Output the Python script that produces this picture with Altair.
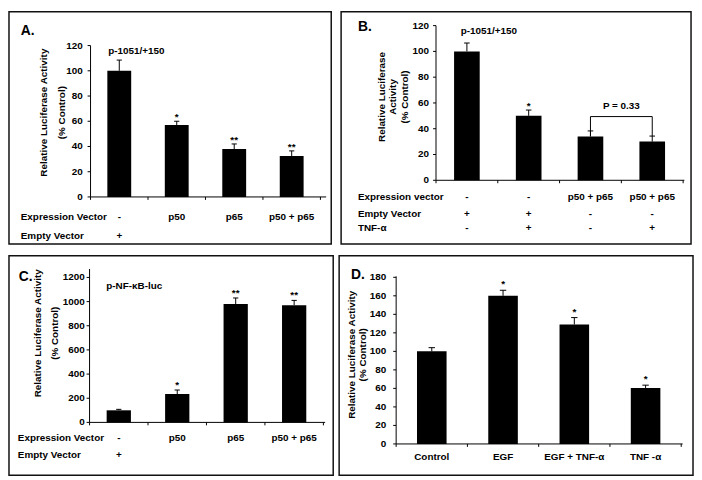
import altair as alt
import pandas as pd

FONT = "Liberation Sans"

# ---------------- data ----------------
A_VALUES = [100, 57, 38, 32.5]
A_ERRORS = [8.5, 3, 4, 4]
A_STARS = ["", "*", "**", "**"]
A_ROW_NAMES = ["Expression Vector", "Empty Vector"]
A_ROW_CELLS = [["-", "p50", "p65", "p50 + p65"], ["+", "", "", ""]]
A_TICKS = [0, 20, 40, 60, 80, 100, 120]
A_NOTE = "p-1051/+150"

B_VALUES = [100, 50, 34, 30]
B_ERRORS = [6.5, 4.5, 4.3, 4.3]
B_STARS = ["", "*", "", ""]
B_ROW_NAMES = ["Expression vector", "Empty Vector", "TNF-α"]
B_ROW_CELLS = [["-", "-", "p50 + p65", "p50 + p65"],
               ["+", "+", "-", "-"],
               ["-", "+", "-", "+"]]
B_TICKS = [0, 20, 40, 60, 80, 100, 120]
B_NOTE = "p-1051/+150"
B_P_TEXT = "P = 0.33"
B_P_PAIR = [3, 4]

C_VALUES = [100, 235, 980, 970]
C_ERRORS = [8, 33, 50, 40]
C_STARS = ["", "*", "**", "**"]
C_ROW_NAMES = ["Expression Vector", "Empty Vector"]
C_ROW_CELLS = [["-", "p50", "p65", "p50 + p65"], ["+", "", "", ""]]
C_TICKS = [0, 200, 400, 600, 800, 1000, 1200]
C_NOTE = "p-NF-κB-luc"

D_CATEGORIES = ["Control", "EGF", "EGF  + TNF-α", "TNF -α"]
D_VALUES = [100, 160, 129, 60.5]
D_ERRORS = [4, 6, 7.5, 3]
D_STARS = ["", "*", "*", "*"]
D_TICKS = [0, 20, 40, 60, 80, 100, 120, 140, 160, 180]

TITLE_2 = ["Relative Luciferase Activity", "(% Control)"]
TITLE_3 = ["Relative Luciferase", "Activity", "(% Control)"]

# ---------------- layout (reference-pixel geometry of each panel) ----------------
LAYOUT = {
    "A": dict(W=328, H=237, a0=83, s=58.5, y0=189, k=1.287, width=326, height=235,
              letter=(12, 24), note=(101, 40), tc=45, ty=103, lh=18, lpad=5,
              row_px=12, row_py=[210, 228.7], axis_top=120, xend=4.6, star_dy=-1),
    "B": dict(W=354, H=237, a0=96, s=62.5, y0=172, k=1.315, width=354, height=235,
              letter=(17, 20), note=(121, 19.3), tc=53, ty=87, lh=12, lpad=4,
              row_px=17, row_py=[189.3, 206.7, 221], axis_top=120, xend=4.52, star_dy=-1,
              br_top=107, br_leg=127, p_py=96),
    "C": dict(W=330, H=224, a0=82, s=59.5, y0=170, k=0.1233, width=328, height=222,
              letter=(10, 26), note=(99, 31), tc=38, ty=79, lh=17, lpad=2,
              row_px=9, row_py=[186, 203.7], axis_top=1270, xend=4.53, star_dy=-2),
    "D": dict(W=360, H=224, a0=58, s=72.5, y0=192, k=0.945, width=358, height=222,
              letter=(12, 24), tc=19, ty=101, lh=11.5, lpad=7,
              xlab_py=205.3, axis_top=181, xend=4.52, star_dy=-3),
}
TICK = 3


def panel(letter, values, errors, stars, ticks, title, L,
          note=None, rows=None, cells=None, xlabels=None, bracket=None):
    W, H, a0, s, y0, k = L["W"], L["H"], L["a0"], L["s"], L["y0"], L["k"]
    w, h = L["width"], L["height"]

    def px2x(px):
        return 0.5 + (px - a0) / s

    def py2y(py):
        return (y0 - py) / k

    xs = alt.Scale(domain=[px2x(0), px2x(W)], nice=False, zero=False)
    ys = alt.Scale(domain=[py2y(H), py2y(0)], nice=False, zero=False)
    n = len(values)

    def X(f):
        return alt.X(f, type="quantitative", scale=xs, axis=None)

    def Y(f):
        return alt.Y(f, type="quantitative", scale=ys, axis=None)

    bars = pd.DataFrame({"idx": list(range(1, n + 1)), "value": values,
                         "err": errors, "star": stars})
    half, cap = 0.2075, 0.045
    base = alt.Chart(bars).transform_calculate(
        lo=f"datum.idx - {half}", hi=f"datum.idx + {half}",
        top="datum.value + datum.err", cl=f"datum.idx - {cap}",
        cr=f"datum.idx + {cap}", zero="0")

    layers = []
    layers.append(base.mark_bar(color="black").encode(
        x=X("lo"), x2="hi:Q", y=Y("value"), y2="zero:Q"))
    # error bars
    layers.append(base.mark_rule(color="black", strokeWidth=1).encode(
        x=X("idx"), y=Y("value"), y2="top:Q"))
    layers.append(base.mark_rule(color="black", strokeWidth=1).encode(
        x=X("cl"), x2="cr:Q", y=Y("top")))
    layers.append(base.mark_text(font=FONT, fontSize=10, fontWeight="bold", color="black",
                                 baseline="alphabetic", dy=L["star_dy"]).encode(
        x=X("idx"), y=Y("top"), text="star:N"))

    # axis lines
    ax = pd.DataFrame({"x0": [0.5], "xend": [L["xend"]], "y0": [0], "ytop": [L["axis_top"]]})
    layers.append(alt.Chart(ax).mark_rule(color="black", strokeWidth=1).encode(
        x=X("x0"), y=Y("y0"), y2="ytop:Q"))
    layers.append(alt.Chart(ax).mark_rule(color="black", strokeWidth=1).encode(
        x=X("x0"), x2="xend:Q", y=Y("y0")))

    # y ticks and tick labels
    yt = pd.DataFrame({"v": ticks, "xa": [px2x(a0 - TICK)] * len(ticks),
                       "xb": [0.5] * len(ticks),
                       "xl": [px2x(a0 - TICK - L["lpad"])] * len(ticks)})
    layers.append(alt.Chart(yt).mark_rule(color="black", strokeWidth=1).encode(
        x=X("xa"), x2="xb:Q", y=Y("v")))
    layers.append(alt.Chart(yt).mark_text(align="right", baseline="middle", font=FONT,
                                          fontSize=10, fontWeight="bold",
                                          color="black").encode(
        x=X("xl"), y=Y("v"), text=alt.Text("v:Q", format="d")))
    # x ticks
    xt = pd.DataFrame({"b": [i + 0.5 for i in range(n + 1)]})
    xt["y0"] = 0
    xt["y1"] = py2y(y0 + TICK)
    layers.append(alt.Chart(xt).mark_rule(color="black", strokeWidth=1).encode(
        x=X("b"), y=Y("y0"), y2="y1:Q"))

    def text_layer(df, align, size=10, baseline="middle", angle=0):
        return alt.Chart(df).mark_text(align=align, baseline=baseline, font=FONT,
                                       fontSize=size, fontWeight="bold", angle=angle,
                                       color="black").encode(
            x=X("x"), y=Y("y"), text="t:N")

    # y title lines
    m = len(title)
    tdf = pd.DataFrame({"x": [px2x(L["tc"] + (i - (m - 1) / 2) * L["lh"]) for i in range(m)],
                        "y": [py2y(L["ty"])] * m, "t": title})
    layers.append(text_layer(tdf, "center", angle=270))

    # panel letter
    lx, ly = L["letter"]
    layers.append(text_layer(pd.DataFrame({"x": [px2x(lx)], "y": [py2y(ly)], "t": [letter]}),
                             "left", size=14, baseline="alphabetic"))
    if note is not None:
        nx, ny = L["note"]
        layers.append(text_layer(pd.DataFrame({"x": [px2x(nx)], "y": [py2y(ny)], "t": [note]}),
                                 "left"))
    if rows is not None:
        hdr = pd.DataFrame({"x": [px2x(L["row_px"])] * len(rows),
                            "y": [py2y(p) for p in L["row_py"]], "t": rows})
        layers.append(text_layer(hdr, "left"))
        recs = []
        for r, row in enumerate(cells):
            for c, t in enumerate(row):
                recs.append({"x": c + 1, "y": py2y(L["row_py"][r]), "t": t})
        layers.append(text_layer(pd.DataFrame(recs), "center"))
    if xlabels is not None:
        xl = pd.DataFrame({"x": list(range(1, n + 1)), "y": [py2y(L["xlab_py"])] * n,
                           "t": xlabels})
        layers.append(text_layer(xl, "center"))
    if bracket is not None:
        (g1, g2), ptxt = bracket
        bt, bl = py2y(L["br_top"]), py2y(L["br_leg"])
        bdf = pd.DataFrame({"xa": [g1], "xb": [g2], "yt": [bt], "yl": [bl]})
        layers.append(alt.Chart(bdf).mark_rule(color="black", strokeWidth=1).encode(
            x=X("xa"), x2="xb:Q", y=Y("yt")))
        layers.append(alt.Chart(bdf).mark_rule(color="black", strokeWidth=1).encode(
            x=X("xa"), y=Y("yl"), y2="yt:Q"))
        layers.append(alt.Chart(bdf).mark_rule(color="black", strokeWidth=1).encode(
            x=X("xb"), y=Y("yl"), y2="yt:Q"))
        layers.append(text_layer(pd.DataFrame({"x": [(g1 + g2) / 2], "y": [py2y(L["p_py"])],
                                               "t": [ptxt]}), "center"))

    return alt.layer(*layers).properties(width=w, height=h)


pA = panel("A.", A_VALUES, A_ERRORS, A_STARS, A_TICKS, TITLE_2, LAYOUT["A"],
           note=A_NOTE, rows=A_ROW_NAMES, cells=A_ROW_CELLS)
pB = panel("B.", B_VALUES, B_ERRORS, B_STARS, B_TICKS, TITLE_3, LAYOUT["B"],
           note=B_NOTE, rows=B_ROW_NAMES, cells=B_ROW_CELLS, bracket=(B_P_PAIR, B_P_TEXT))
pC = panel("C.", C_VALUES, C_ERRORS, C_STARS, C_TICKS, TITLE_2, LAYOUT["C"],
           note=C_NOTE, rows=C_ROW_NAMES, cells=C_ROW_CELLS)
pD = panel("D.", D_VALUES, D_ERRORS, D_STARS, D_TICKS, TITLE_2, LAYOUT["D"],
           xlabels=D_CATEGORIES)

chart = alt.vconcat(
    alt.hconcat(pA, pB, spacing=8),
    alt.hconcat(pC, pD, spacing=4),
    spacing=10,
).properties(
    padding={"left": 0, "top": 0, "right": 0, "bottom": 0}
).configure_view(
    stroke="#111111", strokeWidth=1.5
)

chart.save("out.html", embed_options={"renderer": "svg", "actions": False})
